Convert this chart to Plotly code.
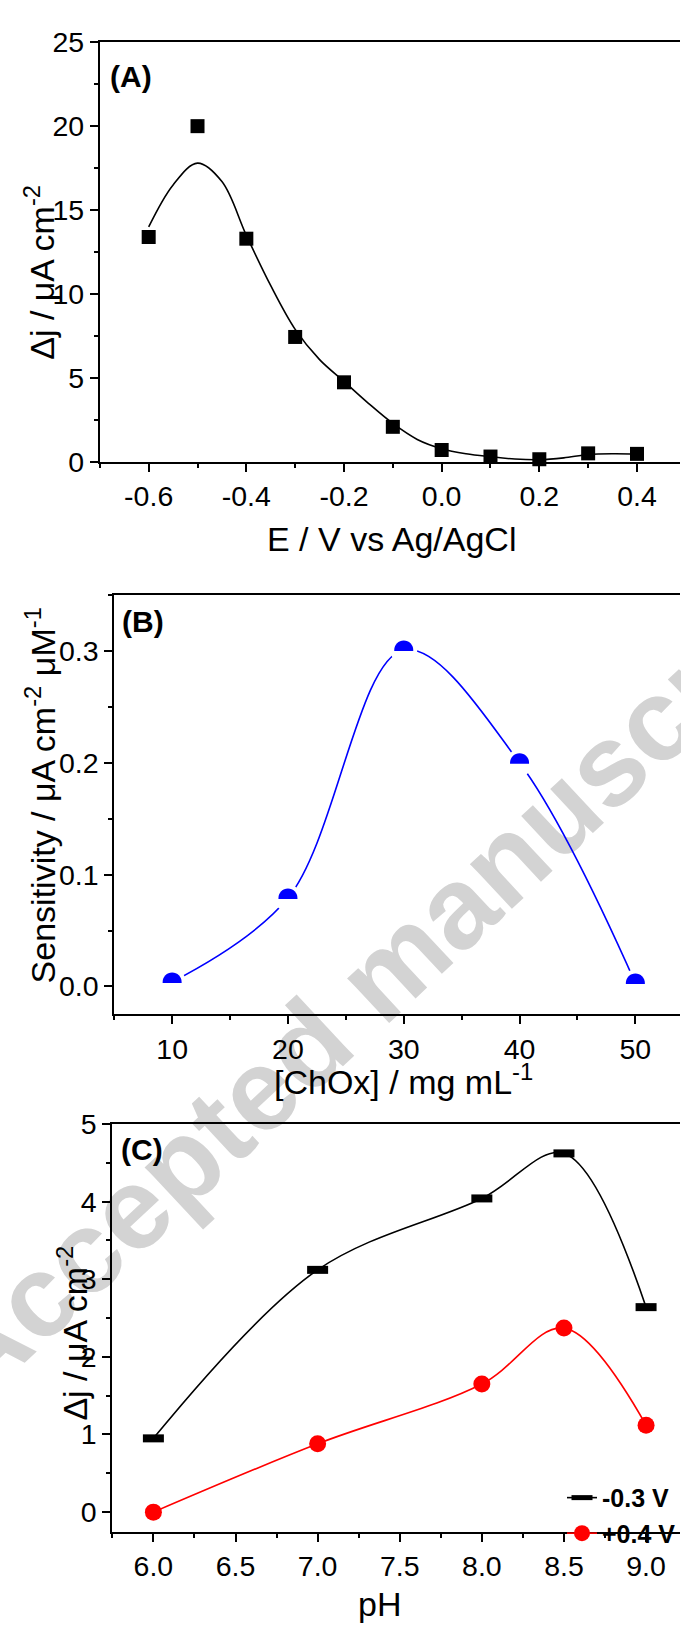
import plotly.graph_objects as go

W, H = 681, 1635
FONT = "Liberation Sans, Arial, Helvetica, sans-serif"

# ---------------- Panel A data ----------------
a_potential = [-0.6, -0.5, -0.4, -0.3, -0.2, -0.1, 0.0, 0.1, 0.2, 0.3, 0.4]
a_dj = [13.4, 20.0, 13.3, 7.45, 4.75, 2.1, 0.72, 0.33, 0.17, 0.52, 0.49]
a_fit_x = [-0.6, -0.55, -0.5, -0.45, -0.4, -0.35, -0.3, -0.25, -0.2, -0.15, -0.1,
           -0.05, 0.0, 0.05, 0.1, 0.15, 0.2, 0.25, 0.3, 0.35, 0.4]
a_fit_y = [14.0, 16.5, 17.8, 16.7, 13.5, 10.5, 7.9, 6.1, 4.8, 3.5, 2.3,
           1.35, 0.8, 0.5, 0.32, 0.18, 0.14, 0.25, 0.45, 0.5, 0.48]
a_xtick_vals = [-0.6, -0.4, -0.2, 0.0, 0.2, 0.4]
a_xtick_text = ["-0.6", "-0.4", "-0.2", "0.0", "0.2", "0.4"]
a_ytick_vals = [0, 5, 10, 15, 20, 25]
a_ytick_text = ["0", "5", "10", "15", "20", "25"]

# ---------------- Panel B data ----------------
b_chox = [10, 20, 30, 40, 50]
b_sens = [0.004, 0.079, 0.301, 0.200, 0.003]
b_xtick_vals = [10, 20, 30, 40, 50]
b_xtick_text = ["10", "20", "30", "40", "50"]
b_ytick_vals = [0.0, 0.1, 0.2, 0.3]
b_ytick_text = ["0.0", "0.1", "0.2", "0.3"]

# ---------------- Panel C data ----------------
c_ph = [6.0, 7.0, 8.0, 8.5, 9.0]
c_neg03 = [0.95, 3.12, 4.04, 4.62, 2.64]
c_pos04 = [0.0, 0.88, 1.65, 2.37, 1.12]
c_series_names = ["-0.3 V", "+0.4 V"]
c_xtick_vals = [6.0, 6.5, 7.0, 7.5, 8.0, 8.5, 9.0]
c_xtick_text = ["6.0", "6.5", "7.0", "7.5", "8.0", "8.5", "9.0"]
c_ytick_vals = [0, 1, 2, 3, 4, 5]
c_ytick_text = ["0", "1", "2", "3", "4", "5"]


def px(x):
    return x / W


def py(y):
    return 1 - y / H


fig = go.Figure()

# Panel A
fig.add_trace(go.Scatter(x=a_fit_x, y=a_fit_y, mode="lines",
                         line=dict(color="black", width=1.6, shape="spline", smoothing=1.0),
                         xaxis="x", yaxis="y", showlegend=False, hoverinfo="skip"))
fig.add_trace(go.Scatter(x=a_potential, y=a_dj, mode="markers",
                         marker=dict(symbol="square", size=14, color="black"),
                         xaxis="x", yaxis="y", showlegend=False, cliponaxis=False))

# Panel B (white circles make the gaps around the symbols)
fig.add_trace(go.Scatter(x=b_chox, y=b_sens, mode="lines+markers",
                         line=dict(color="#0000ff", width=1.6, shape="spline", smoothing=1.0),
                         marker=dict(symbol="circle", size=27, color="white"),
                         xaxis="x2", yaxis="y2", showlegend=False, cliponaxis=False))

# Panel C
fig.add_trace(go.Scatter(x=c_ph, y=c_neg03, mode="lines+markers", name=c_series_names[0],
                         line=dict(color="black", width=1.6, shape="spline", smoothing=1.0),
                         marker=dict(symbol="line-ew", size=15, line=dict(color="black", width=8)),
                         xaxis="x3", yaxis="y3", cliponaxis=False))
fig.add_trace(go.Scatter(x=c_ph, y=c_pos04, mode="lines+markers", name=c_series_names[1],
                         line=dict(color="#ff0000", width=1.6, shape="spline", smoothing=1.0),
                         marker=dict(symbol="circle", size=17, color="#ff0000"),
                         xaxis="x3", yaxis="y3", cliponaxis=False))

shapes = []
# half-disc symbols for panel B (pixel-sized path anchored on each data point)
R = 9.5
K = round(0.5523 * R, 2)
half_disc = (f"M {-R},-1 L {-R},0 C {-R},{K} {-K},{R} 0,{R} C {K},{R} {R},{K} {R},0 L {R},-1 Z")
for xv, yv in zip(b_chox, b_sens):
    shapes.append(dict(type="path", xref="x2", yref="y2", xsizemode="pixel", ysizemode="pixel",
                       xanchor=xv, yanchor=yv, path=half_disc,
                       fillcolor="#0000ff", line=dict(width=0), layer="above"))

# watermark behind everything
shapes.append(dict(type="rect", xref="paper", yref="paper",
                   x0=px(325), x1=px(425), y0=py(1020), y1=py(920),
                   line=dict(width=0), fillcolor="rgba(0,0,0,0)", layer="below",
                   label=dict(text="<b>Accepted manuscript</b>", textangle=-43,
                              textposition="middle center",
                              font=dict(size=116, color="#d3d3d3", family=FONT))))


def axis(domain, rng, vals, text, minor_dtick, minor_tick0, anchor, mirror):
    d = dict(domain=domain, range=rng, anchor=anchor, showline=True, linecolor="black",
             linewidth=2, mirror=mirror, ticks="outside", ticklen=8, tickwidth=1.5,
             tickcolor="black", showgrid=False, zeroline=False, tickmode="array",
             tickvals=vals, ticktext=text,
             tickfont=dict(size=28.5, color="black", family=FONT),
             minor=dict(ticks="outside", ticklen=4, tickwidth=1.5, tickcolor="black",
                        tick0=minor_tick0, dtick=minor_dtick, showgrid=False))
    return d


fig.update_layout(
    width=W, height=H, margin=dict(l=0, r=0, t=0, b=0),
    paper_bgcolor="white", plot_bgcolor="rgba(0,0,0,0)",
    font=dict(family=FONT, color="black"),
    xaxis=axis([px(100), 1], [-0.7, 0.4881], a_xtick_vals, a_xtick_text, 0.1, -0.7, "y", True),
    yaxis=axis([py(455), py(26.7)], [0, 25], a_ytick_vals, a_ytick_text, 2.5, 0, "x", False),
    xaxis2=axis([px(114.4), 1], [5, 53.855], b_xtick_vals, b_xtick_text, 5, 5, "y2", True),
    yaxis2=axis([py(1018.3), py(590.7)], [-0.025, 0.35], b_ytick_vals, b_ytick_text, 0.05, 0, "x2", False),
    xaxis3=axis([px(112.5), 1], [5.75, 9.2066], c_xtick_vals, c_xtick_text, 0.25, 5.75, "y3", True),
    yaxis3=axis([py(1545.8), py(1130)], [-0.25, 5], c_ytick_vals, c_ytick_text, 0.5, 0, "x3", False),
    shapes=shapes,
    showlegend=True,
    legend=dict(x=px(563), y=py(1488), xanchor="left", yanchor="top",
                bgcolor="rgba(0,0,0,0)", borderwidth=0,
                font=dict(size=25, color="black", family=FONT, weight="bold"),
                tracegroupgap=0),
)

TITLE = 34
ann = [
    dict(text="<b>(A)</b>", x=px(108), y=py(62), xanchor="left", yanchor="middle", font=dict(size=30)),
    dict(text="<b>(B)</b>", x=px(120), y=py(618), xanchor="left", yanchor="middle", font=dict(size=30)),
    dict(text="<b>(C)</b>", x=px(119), y=py(1156), xanchor="left", yanchor="middle", font=dict(size=30)),
    dict(text="E / V vs Ag/AgCl", x=px(392), y=py(533), font=dict(size=TITLE)),
    dict(text="\u0394j / \u03bcA cm<sup>-2</sup>", x=px(40), y=py(261), textangle=-90, font=dict(size=TITLE)),
    dict(text="[ChOx] / mg mL<sup>-1</sup>", x=px(404), y=py(1085), font=dict(size=TITLE)),
    dict(text="Sensitivity / \u03bcA cm<sup>-2</sup> \u03bcM<sup>-1</sup>", x=px(40), y=py(795),
         textangle=-90, font=dict(size=TITLE)),
    dict(text="pH", x=px(380), y=py(1620), font=dict(size=TITLE)),
    dict(text="\u0394j / \u03bcA cm<sup>-2</sup>", x=px(73), y=py(1343), textangle=-90, font=dict(size=TITLE)),
]
for a in ann:
    a.setdefault("xanchor", "center")
    a.setdefault("yanchor", "middle")
    a.update(xref="paper", yref="paper", showarrow=False)
    a["font"] = dict(family=FONT, color="black", **a["font"])
fig.update_layout(annotations=ann)

fig.write_html("out.html")
